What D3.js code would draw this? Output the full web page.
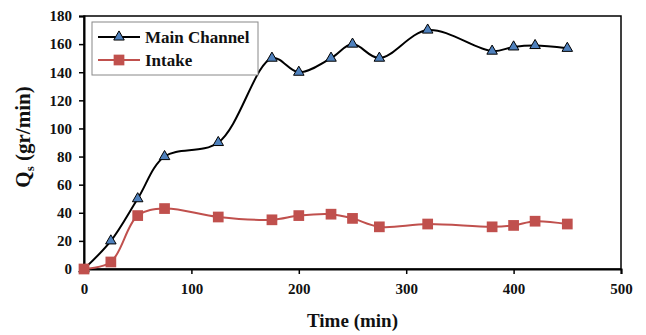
<!DOCTYPE html>
<html>
<head>
<meta charset="utf-8">
<script src="https://cdn.jsdelivr.net/npm/d3@7"></script>
<style>
  body { margin: 0; background: #fff; }
  text { font-family: "Liberation Serif", "Times New Roman", serif; font-weight: bold; }
</style>
</head>
<body>
<div id="chart"></div>
<script>
// --- Data ---
const timeMain = [0, 25, 50, 75, 125, 175, 200, 230, 250, 275, 320, 380, 400, 420, 450];
const qsMain   = [0, 20, 50, 80, 90, 150, 140, 150, 160, 150, 170, 155, 158, 159, 157];
const timeIntake = [0, 25, 50, 75, 125, 175, 200, 230, 250, 275, 320, 380, 400, 420, 450];
const qsIntake   = [0, 5, 38, 43, 37, 35, 38, 39, 36, 30, 32, 30, 31, 34, 32];
const xTicks = [0, 100, 200, 300, 400, 500];
const yTicks = [0, 20, 40, 60, 80, 100, 120, 140, 160, 180];

const width = 646, height = 335;
const margin = { top: 16, right: 25, bottom: 66, left: 84 };
const plotW = width - margin.left - margin.right;
const plotH = height - margin.top - margin.bottom;

const svg = d3.select("#chart").append("svg")
    .attr("width", width)
    .attr("height", height);

const g = svg.append("g")
    .attr("transform", `translate(${margin.left}, ${margin.top})`);

const x = d3.scaleLinear().domain([0, 500]).range([0, plotW]);
const y = d3.scaleLinear().domain([0, 180]).range([plotH, 0]);

// plot border
g.append("rect")
    .attr("width", plotW)
    .attr("height", plotH)
    .attr("fill", "none")
    .attr("stroke", "#000")
    .attr("stroke-width", 1.5);

// --- Axes ---
const xAxis = g.append("g")
    .attr("transform", `translate(0, ${plotH})`)
    .call(d3.axisBottom(x).tickValues(xTicks).tickSize(5).tickPadding(9));
const yAxis = g.append("g")
    .call(d3.axisLeft(y).tickValues(yTicks).tickSize(5).tickPadding(7));

[xAxis, yAxis].forEach(ax => {
    ax.attr("font-family", "'Liberation Serif', serif").attr("font-size", 15);
    ax.select(".domain").attr("stroke-width", 2);
    ax.selectAll(".tick line").attr("stroke-width", 1.5);
    ax.selectAll("text")
        .attr("fill", "#111")
        .style("font-family", "'Liberation Serif', serif")
        .style("font-weight", "bold");
});

// --- Series ---
const mainData = timeMain.map((t, i) => ({ t, v: qsMain[i] }));
const intakeData = timeIntake.map((t, i) => ({ t, v: qsIntake[i] }));

const line = d3.line()
    .x(d => x(d.t))
    .y(d => y(d.v))
    .curve(d3.curveCatmullRom.alpha(0.5));

g.append("path")
    .datum(intakeData)
    .attr("fill", "none")
    .attr("stroke", "#c0504d")
    .attr("stroke-width", 2)
    .attr("d", line);

g.append("path")
    .datum(mainData)
    .attr("fill", "none")
    .attr("stroke", "#000")
    .attr("stroke-width", 2)
    .attr("d", line);

const square = d3.symbol().type(d3.symbolSquare).size(115);
const triangle = d3.symbol().type(d3.symbolTriangle).size(48);

g.selectAll(".m-main")
    .data(mainData)
    .join("path")
    .attr("class", "m-main")
    .attr("transform", d => `translate(${x(d.t)}, ${y(d.v)})`)
    .attr("d", triangle)
    .attr("fill", "#4f81bd")
    .attr("stroke", "#000")
    .attr("stroke-width", 1);

g.selectAll(".m-intake")
    .data(intakeData)
    .join("path")
    .attr("class", "m-intake")
    .attr("transform", d => `translate(${x(d.t)}, ${y(d.v)})`)
    .attr("d", square)
    .attr("fill", "#c0504d");

// --- Legend ---
const legend = svg.append("g").attr("transform", "translate(92, 22)");
legend.append("rect")
    .attr("width", 166)
    .attr("height", 53)
    .attr("fill", "#fff")
    .attr("stroke", "#888")
    .attr("stroke-width", 1);

const items = [
    { name: "Main Channel", color: "#000", sym: triangle, fill: "#4f81bd", stroke: "#000" },
    { name: "Intake", color: "#c0504d", sym: square, fill: "#c0504d", stroke: "none" }
];
items.forEach((it, i) => {
    const row = legend.append("g").attr("transform", `translate(0, ${15 + i * 23})`);
    row.append("line")
        .attr("x1", 6).attr("x2", 48)
        .attr("stroke", it.color)
        .attr("stroke-width", 2);
    row.append("path")
        .attr("transform", "translate(27, 0)")
        .attr("d", it.sym)
        .attr("fill", it.fill)
        .attr("stroke", it.stroke);
    row.append("text")
        .attr("x", 53)
        .attr("y", 6)
        .attr("font-size", "17px")
        .attr("fill", "#111")
        .text(it.name);
});

// --- Axis titles ---
svg.append("text")
    .attr("x", margin.left + plotW / 2)
    .attr("y", 327)
    .attr("text-anchor", "middle")
    .attr("font-size", "19px")
    .attr("fill", "#111")
    .text("Time (min)");

const yl = svg.append("text")
    .attr("transform", `translate(30, 137) rotate(-90)`)
    .attr("text-anchor", "middle")
    .attr("font-size", "21px")
    .attr("fill", "#111");
yl.append("tspan").text("Q");
yl.append("tspan").attr("font-size", "13px").attr("dy", 4).text("s");
yl.append("tspan").attr("dy", -4).text(" (gr/min)");
</script>
</body>
</html>
